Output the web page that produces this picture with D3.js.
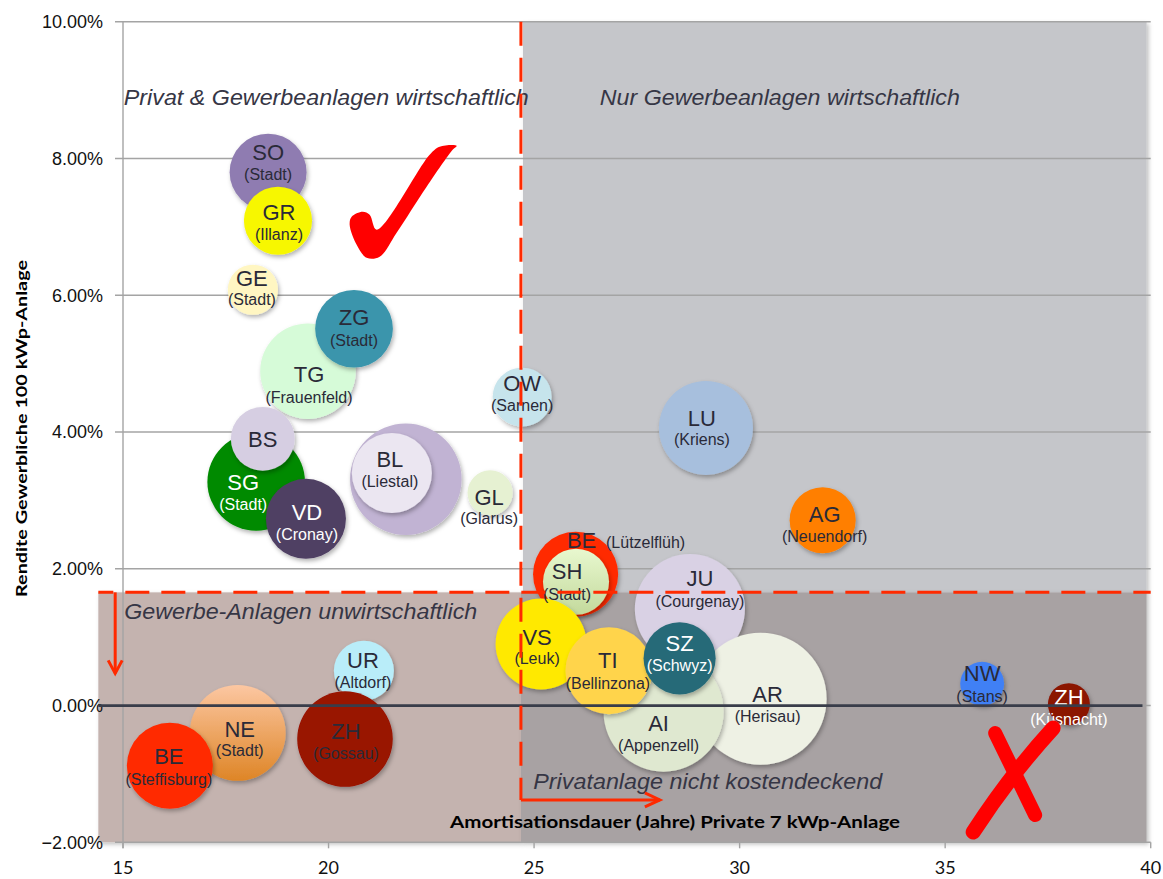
<!DOCTYPE html>
<html><head><meta charset="utf-8">
<script src="https://cdn.jsdelivr.net/npm/d3@7"></script>
<style>body{margin:0;background:#fff} svg{display:block}</style>
</head><body>
<svg id="chart" width="1163" height="879"></svg>
<script>
// ---------- data ----------
const cantons = ["SO","GR","GE","TG","ZG","SG","BS","VD","","BL","GL","OW","LU","AG","BE","SH","JU","AR","AI","VS","TI","SZ","NW","ZH","UR","ZH","NE","BE"];
const places  = ["(Stadt)","(Illanz)","(Stadt)","(Frauenfeld)","(Stadt)","(Stadt)","","(Cronay)","","(Liestal)","(Glarus)","(Sarnen)","(Kriens)","(Neuendorf)","(Lützelflüh)","(Stadt)","(Courgenay)","(Herisau)","(Appenzell)","(Leuk)","(Bellinzona)","(Schwyz)","(Stans)","(Küsnacht)","(Altdorf)","(Gossau)","(Stadt)","(Steffisburg)"];
const amortisation = [18.53,18.77,18.16,19.50,20.62,18.24,18.40,19.45,21.88,21.54,23.93,24.71,29.18,32.02,26.01,26.02,28.79,30.51,28.15,25.17,26.82,28.54,35.90,38.01,20.86,20.40,17.79,16.14];
const rendite      = [7.80,7.09,6.08,4.89,5.51,3.27,3.90,2.73,3.31,3.40,3.11,4.51,4.06,2.71,1.92,1.81,1.41,0.10,-0.09,0.90,0.51,0.69,0.32,0.02,0.51,-0.49,-0.40,-0.88];
const bubbleSize   = [14.8,11.6,6.3,22.8,15.1,23.8,10.2,16.0,31.1,16.0,5.1,8.7,22.1,10.9,18.1,10.9,30.3,43.6,36.0,20.7,18.9,13.0,4.8,4.4,9.0,22.8,23.0,18.5];
const xTicks = [15,20,25,30,35,40];
const yTicks = [-2,0,2,4,6,8,10];
const thresholdX = 24.68;   // Amortisation limit
const thresholdY = 1.655;   // Rendite limit

// ---------- styles ----------
const fills = ["#8f7cb1","#f7f700","#fff6c2","#d6fbd8","#3b95ac","#008a00","#d6cee2","#4f3f63","#c1b3d3","#ebe6f1","#e6f1d2","#c6e4ec","#a7bfdd","#ff7f00","#ff2a00","url(#gSH)","#d9d1e4","#eef1e4","#dfe8d0","#ffe900","#ffd44c","#286a78","#4080f5","#8b1300","#b9edf9","#991200","url(#gNE)","#ff2a00"];
const textCol = i => ([5,7,21,23].includes(i) ? "#ffffff" : "#2a2a38");
// label offsets in px: [dx, dyCode, dySub, dxSub]
const labelOff = [[0,-20,2],[1,-8,14],[-1,-11,10],[1,3,26],[0,-11,12],[-13,0,22],[0,0,0],[1,-7,16],[0,0,0],[-2,-14,8],[-1,4,26],[0,-14,8],[-4,-10,12],[2,-6,16],[6,-34,-32,70],[-9,-10,13],[10,-31,-8],[7,-4,18],[-5,12,34],[-4,-7,14],[-1,-10,13],[0,-15,7],[0,-10,13],[0,-7,15],[-1,-10,12],[1,-8,14],[2,-4,18],[-1,-9,14]];

const svg = d3.select("#chart");
const x = d3.scaleLinear().domain([15,40]).range([123,1150.7]);
const y = d3.scaleLinear().domain([-2,10]).range([842.3,21.7]);
const r = d3.scaleSqrt().domain([0,50]).range([0,70.71]);
const FONT = "'Liberation Sans', Arial, Helvetica, sans-serif";
const RED = "#ff2a00";

// defs
const defs = svg.append("defs");
const sh = defs.append("filter").attr("id","shadow").attr("x","-30%").attr("y","-30%").attr("width","160%").attr("height","160%");
sh.append("feDropShadow").attr("dx",1.5).attr("dy",2.5).attr("stdDeviation",2).attr("flood-color","#000").attr("flood-opacity",0.3);
const rs = defs.append("filter").attr("id","rshadow").attr("x","-5%").attr("y","-5%").attr("width","110%").attr("height","110%");
rs.append("feDropShadow").attr("dx",2).attr("dy",2).attr("stdDeviation",2).attr("flood-color","#000").attr("flood-opacity",0.25);
function lg(id, c1, c2){
  const g = defs.append("linearGradient").attr("id",id).attr("x1",0).attr("y1",0).attr("x2",0).attr("y2",1);
  g.append("stop").attr("offset","0%").attr("stop-color",c1);
  g.append("stop").attr("offset","100%").attr("stop-color",c2);
}
lg("gNE","#fcc7a2","#de8526");
lg("gSH","#e8f8cf","#c3d99c");

// regions
const regions = [
  {x0:thresholdX+0.05, x1:39.9, y0:thresholdY, y1:10, fill:"#c5c6ca"},
  {x0:14.4, x1:thresholdX, y0:-2, y1:thresholdY, fill:"#c4b3af"},
  {x0:thresholdX, x1:39.9, y0:-2, y1:thresholdY, fill:"#a8a2a3"}
];
svg.append("g").selectAll("rect").data(regions).join("rect")
  .attr("x",d=>x(d.x0)).attr("y",d=>y(d.y1))
  .attr("width",d=>x(d.x1)-x(d.x0)).attr("height",d=>y(d.y0)-y(d.y1))
  .attr("fill",d=>d.fill).attr("filter","url(#rshadow)");

// gridlines and axis
const grid = svg.append("g");
grid.selectAll("line.h").data(yTicks).join("line").attr("class","h")
  .attr("x1",x(15)-8).attr("x2",x(40)).attr("y1",d=>y(d)).attr("y2",d=>y(d))
  .attr("stroke","#a4a4a4").attr("stroke-width",1.4);
grid.append("line").attr("x1",x(15)).attr("x2",x(15)).attr("y1",y(10)).attr("y2",y(-2)+6)
  .attr("stroke","#a4a4a4").attr("stroke-width",1.4);
grid.selectAll("line.xt").data(xTicks).join("line").attr("class","xt")
  .attr("x1",d=>x(d)).attr("x2",d=>x(d)).attr("y1",y(-2)).attr("y2",y(-2)+6)
  .attr("stroke","#a4a4a4").attr("stroke-width",1.4);

// tick labels
svg.append("g").selectAll("text").data(yTicks).join("text")
  .attr("x",103).attr("y",d=>y(d)).attr("dy","0.35em").attr("text-anchor","end")
  .attr("font-family",FONT).attr("font-size",18).attr("fill","#111")
  .text(d=>d3.format(".2f")(d)+"%");
svg.append("g").selectAll("text").data(xTicks).join("text")
  .attr("x",d=>x(d)).attr("y",868).attr("dy","0.35em").attr("text-anchor","middle")
  .attr("font-family","Lato, 'Liberation Sans', sans-serif").attr("font-size",18).attr("fill","#111")
  .text(d=>d);

// bubbles
const data = cantons.map((c,i)=>({i, c, p:places[i], x:amortisation[i], y:rendite[i], s:bubbleSize[i]}));
svg.append("g").selectAll("circle").data(data).join("circle")
  .attr("cx",d=>x(d.x)).attr("cy",d=>y(d.y)).attr("r",d=>r(d.s))
  .attr("fill",d=>fills[d.i]).attr("filter","url(#shadow)");

// labels
const lab = svg.append("g").attr("font-family",FONT);
data.forEach(d=>{
  const o = labelOff[d.i];
  const cx = x(d.x), cy = y(d.y);
  if (d.c) lab.append("text").attr("x",cx+o[0]).attr("y",cy+o[1]).attr("dy","0.35em")
    .attr("text-anchor","middle").attr("font-size",22).attr("fill",textCol(d.i)).text(d.c);
  if (d.p) lab.append("text").attr("x",cx+(o[3]!==undefined?o[3]:o[0])).attr("y",cy+o[2]).attr("dy","0.35em")
    .attr("text-anchor","middle").attr("font-size",16).attr("fill",textCol(d.i)).text(d.p);
});

// region labels
const rl = [
  {t:"Privat & Gewerbeanlagen wirtschaftlich", x:15.02, y:8.890, w:405},
  {t:"Nur Gewerbeanlagen wirtschaftlich", x:26.6, y:8.890, w:360},
  {t:"Gewerbe-Anlagen unwirtschaftlich", x:15.03, y:1.372, w:353},
  {t:"Privatanlage nicht kostendeckend", x:24.98, y:-1.105, w:349}
];
svg.append("g").selectAll("text").data(rl).join("text")
  .attr("x",d=>x(d.x)).attr("y",d=>y(d.y)).attr("dy","0.35em")
  .attr("font-family",FONT).attr("font-style","italic").attr("font-size",22)
  .attr("fill","#363645").attr("textLength",d=>d.w).attr("lengthAdjust","spacingAndGlyphs")
  .text(d=>d.t);

// zero line
svg.append("line").attr("x1",x(14.4)).attr("x2",x(39.8)).attr("y1",y(0)).attr("y2",y(0))
  .attr("stroke","#393d4a").attr("stroke-width",2.8);

// threshold dashed lines
svg.append("line").attr("x1",x(14.4)).attr("x2",x(40)).attr("y1",y(thresholdY)).attr("y2",y(thresholdY))
  .attr("stroke",RED).attr("stroke-width",3).attr("stroke-dasharray","24 12").attr("stroke-dashoffset",9);
svg.append("line").attr("x1",x(thresholdX)).attr("x2",x(thresholdX)).attr("y1",y(10)).attr("y2",y(-1.38))
  .attr("stroke",RED).attr("stroke-width",3).attr("stroke-dasharray","24 12");

// arrows
const ar = svg.append("g").attr("stroke",RED).attr("stroke-width",3).attr("fill","none").attr("stroke-linejoin","miter");
const ax0 = x(14.81), ay0 = y(thresholdY), ay1 = y(0.47);
ar.append("line").attr("x1",ax0).attr("x2",ax0).attr("y1",ay0).attr("y2",ay1);
ar.append("polyline").attr("points",`${ax0-7},${ay1-13} ${ax0},${ay1} ${ax0+7},${ay1-13}`);
const bx0 = x(thresholdX), bx1 = x(28.06), by = y(-1.38);
ar.append("line").attr("x1",bx0).attr("x2",bx1).attr("y1",by).attr("y2",by);
ar.append("polyline").attr("points",`${bx1-15},${by-7} ${bx1},${by} ${bx1-15},${by+7}`);

// check mark (anchored in data space)
const ck = [x(21.0), y(6.62)];
const ckPts = [[87,-107],[70,-106],[60,-98],[7,-23],[0,-38],[-7,-41],[-18,-36],[-20,-28],[-13,-8],[-3,5],[10,4],[27,-20],[57,-66],[83,-103]];
svg.append("path").attr("d", d3.line().curve(d3.curveCatmullRomClosed.alpha(0.5))(ckPts.map(p=>[ck[0]+p[0], ck[1]+p[1]])))
  .attr("fill","#ff0000");

// X mark
const xm = [x(36.63), y(-1.09)];
const xg = svg.append("g").attr("stroke","#ff0000").attr("stroke-linecap","round").attr("fill","none");
xg.append("path").attr("d",`M${xm[0]-17},${xm[1]-47} Q${xm[0]+2},${xm[1]-8} ${xm[0]+23},${xm[1]+35}`).attr("stroke-width",14);
xg.append("path").attr("d",`M${xm[0]+41},${xm[1]-52} Q${xm[0]-2},${xm[1]-5} ${xm[0]-39},${xm[1]+52}`).attr("stroke-width",15);

// axis titles
svg.append("text").attr("x",675).attr("y",821.7).attr("dy","0.35em").attr("text-anchor","middle")
  .attr("font-family","Lato, 'Open Sans', sans-serif").attr("font-weight","bold").attr("font-size",17)
  .attr("fill","#000").attr("textLength",450).attr("lengthAdjust","spacingAndGlyphs")
  .text("Amortisationsdauer (Jahre) Private 7 kWp-Anlage");
svg.append("text").attr("transform","translate(21,428.5) rotate(-90)").attr("dy","0.35em").attr("text-anchor","middle")
  .attr("font-family","Lato, 'Open Sans', sans-serif").attr("font-weight","bold").attr("font-size",16)
  .attr("fill","#000").attr("textLength",337).attr("lengthAdjust","spacingAndGlyphs")
  .text("Rendite Gewerbliche 100 kWp-Anlage");
</script>
</body></html>
